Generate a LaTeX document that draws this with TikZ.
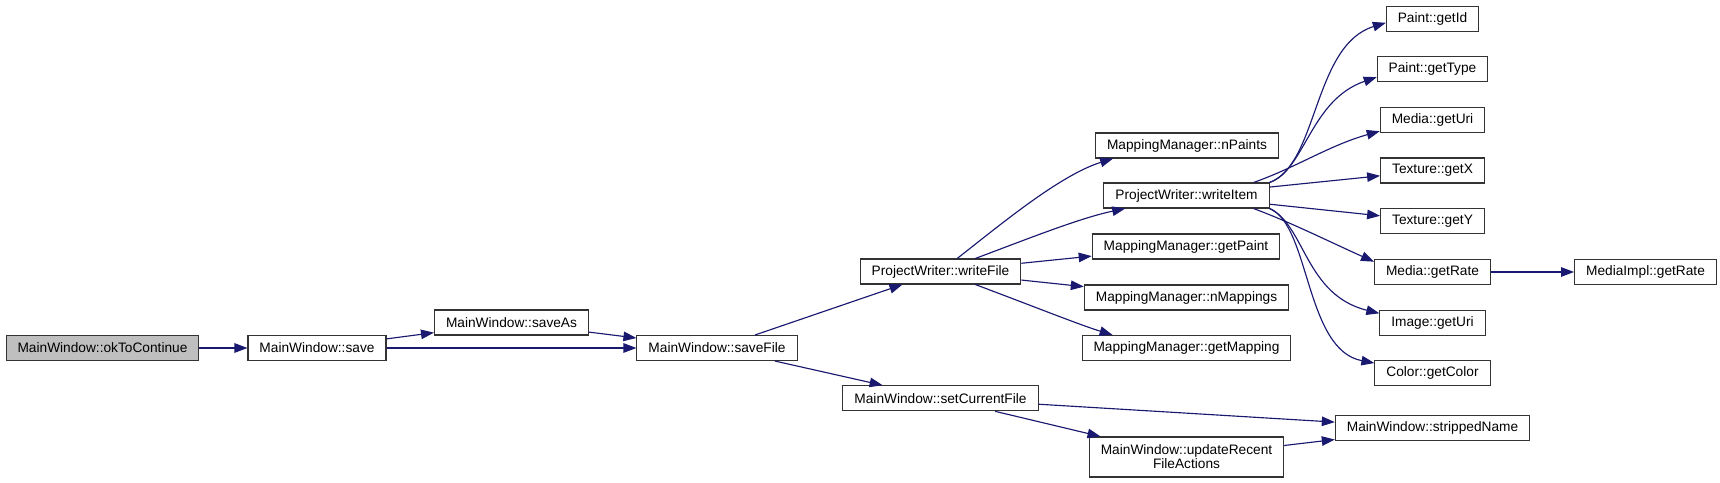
\documentclass[tikz,border=0pt]{standalone}
\usepackage{fontspec}
\setmainfont{Liberation Sans}
\definecolor{grafoAzul}{HTML}{191970}
\definecolor{grafoGris}{HTML}{BFBFBF}
\definecolor{grafoBorde}{HTML}{333333}
\usetikzlibrary{
	arrows.meta
}
\tikzset{
	funcion/.style={
		draw=grafoBorde,
		fill=white,
		line width=0.6pt,
		align=center,
		inner xsep=0.23cm,
		inner ysep=3pt,
		minimum height=0.5cm,
		font=\fontsize{7.8}{8}\selectfont
	},
	raiz/.style={
		funcion,
		fill=grafoGris
	},
	llamada/.style={
		-{Triangle[length=0.26cm,width=0.19cm]},
		line width=0.65pt,
		grafoAzul
	}
}

\begin{document}
\begin{tikzpicture}[x=0.02cm,y=-0.02cm]
		\useasboundingbox (0,0) rectangle (1720,483);
		\node[raiz] (okToContinue) at (102.5,348) {MainWindow::okToContinue};
		\node[funcion] (save) at (317,348) {MainWindow::save};
		\node[funcion] (saveAs) at (511.5,322.5) {MainWindow::saveAs};
		\node[funcion] (saveFile) at (717,348) {MainWindow::saveFile};
		\node[funcion] (writeFile) at (940.5,271.5) {ProjectWriter::writeFile};
		\node[funcion] (setCurrentFile) at (940.5,398.3) {MainWindow::setCurrentFile};
		\node[funcion] (nPaints) at (1187,145.5) {MappingManager::nPaints};
		\node[funcion] (writeItem) at (1186.5,195.5) {ProjectWriter::writeItem};
		\node[funcion] (getPaint) at (1186,246.5) {MappingManager::getPaint};
		\node[funcion] (nMappings) at (1186.5,297.5) {MappingManager::nMappings};
		\node[funcion] (getMapping) at (1186.5,348) {MappingManager::getMapping};
		\node[funcion, minimum height=0.8cm] (updateRecent) at (1186.5,457) {MainWindow::updateRecent\\FileActions};
		\node[funcion] (strippedName) at (1432.5,428) {MainWindow::strippedName};
		\node[funcion] (paintGetId) at (1432.5,18.7) {Paint::getId};
		\node[funcion] (paintGetType) at (1432.5,69.3) {Paint::getType};
		\node[funcion] (mediaGetUri) at (1432.5,120) {Media::getUri};
		\node[funcion] (textureGetX) at (1432.5,170.5) {Texture::getX};
		\node[funcion] (textureGetY) at (1432.5,221.3) {Texture::getY};
		\node[funcion] (mediaGetRate) at (1432.5,272) {Media::getRate};
		\node[funcion] (implGetRate) at (1645.5,272) {MediaImpl::getRate};
		\node[funcion] (imageGetUri) at (1432.5,322.7) {Image::getUri};
		\node[funcion] (colorGetColor) at (1432.5,373.3) {Color::getColor};
		\draw[llamada] (okToContinue) -- (save);
		\draw[llamada] (save) -- (saveAs);
		\draw[llamada] (save) -- (saveFile);
		\draw[llamada] (saveAs) -- (saveFile);
		\draw[llamada] (saveFile) -- (writeFile);
		\draw[llamada] (saveFile) -- (setCurrentFile);
		\draw[llamada] (writeFile) .. controls (1000,225) and (1060,175) .. (nPaints.190);
		\draw[llamada] (writeFile) .. controls (1030,238) and (1080,218) .. (writeItem.192);
		\draw[llamada] (writeFile) -- (getPaint);
		\draw[llamada] (writeFile) -- (nMappings);
		\draw[llamada] (writeFile) .. controls (1030,305) and (1080,325) .. (getMapping.170);
		\draw[llamada] (writeItem.north east) .. controls (1318,165) and (1313,45) .. (paintGetId.185);
		\draw[llamada] (writeItem.north east) .. controls (1305,170) and (1310,100) .. (paintGetType.188);
		\draw[llamada] (writeItem.11) .. controls (1295,168) and (1330,145) .. (mediaGetUri.192);
		\draw[llamada] (writeItem) -- (textureGetX);
		\draw[llamada] (writeItem) -- (textureGetY);
		\draw[llamada] (writeItem.-11) .. controls (1290,222) and (1330,242) .. (mediaGetRate.170);
		\draw[llamada] (writeItem.south east) .. controls (1305,225) and (1305,295) .. (imageGetUri.170);
		\draw[llamada] (writeItem.south east) .. controls (1310,225) and (1305,350) .. (colorGetColor.170);
		\draw[llamada] (mediaGetRate) -- (implGetRate);
		\draw[llamada] (setCurrentFile) -- (strippedName);
		\draw[llamada] (setCurrentFile) -- (updateRecent);
		\draw[llamada] (updateRecent) -- (strippedName);
	\end{tikzpicture}
\end{document}
